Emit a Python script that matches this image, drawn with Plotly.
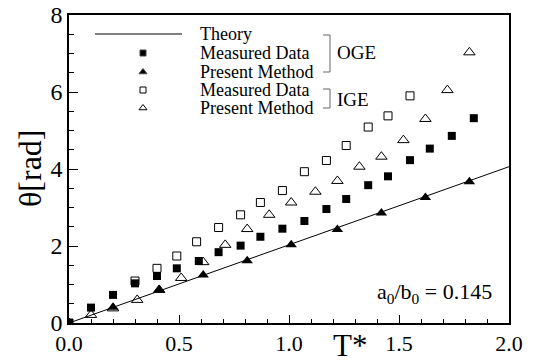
import plotly.graph_objects as go

# ---------------- data ----------------
theory_T = [0.0, 2.0]
theory_theta = [0.0, 4.06]

oge_meas_T = [0.0, 0.10, 0.20, 0.30, 0.40, 0.49, 0.59, 0.68, 0.78, 0.87, 0.97,
              1.07, 1.17, 1.26, 1.36, 1.45, 1.55, 1.64, 1.74, 1.84]
oge_meas_theta = [0.0, 0.40, 0.73, 1.03, 1.22, 1.42, 1.61, 1.84, 2.01, 2.24, 2.45,
                  2.65, 2.96, 3.22, 3.58, 3.81, 4.23, 4.53, 4.86, 5.32]

oge_pres_T = [0.0, 0.20, 0.41, 0.61, 0.81, 1.01, 1.22, 1.42, 1.62, 1.82]
oge_pres_theta = [0.0, 0.41, 0.86, 1.25, 1.62, 2.03, 2.43, 2.86, 3.26, 3.67]

ige_meas_T = [0.0, 0.30, 0.40, 0.49, 0.58, 0.68, 0.78, 0.87, 0.97, 1.07, 1.17,
              1.26, 1.36, 1.45, 1.55]
ige_meas_theta = [0.0, 1.09, 1.42, 1.74, 2.11, 2.48, 2.81, 3.13, 3.44, 3.93, 4.22,
                  4.61, 5.09, 5.38, 5.90]

ige_pres_T = [0.0, 0.10, 0.20, 0.31, 0.41, 0.51, 0.61, 0.71, 0.81, 0.91, 1.01,
              1.12, 1.22, 1.32, 1.42, 1.52, 1.62, 1.72, 1.82]
ige_pres_theta = [0.0, 0.21, 0.38, 0.60, 0.86, 1.17, 1.58, 2.03, 2.44, 2.81, 3.13,
                  3.41, 3.69, 4.06, 4.32, 4.75, 5.30, 6.05, 7.03]

legend_labels = ["Theory", "Measured Data", "Present Method", "Measured Data", "Present Method"]
x_ticks = [0.0, 0.5, 1.0, 1.5, 2.0]
x_tick_text = ["0.0", "0.5", "1.0", "1.5", "2.0"]
y_ticks = [0, 2, 4, 6, 8]
y_tick_text = ["0", "2", "4", "6", "8"]

FONT = "'Liberation Serif', 'Times New Roman', Times, serif"

fig = go.Figure()

fig.add_trace(go.Scatter(x=theory_T, y=theory_theta, mode="lines",
                         line=dict(color="black", width=1), name=legend_labels[0],
                         showlegend=False))
fig.add_trace(go.Scatter(x=ige_meas_T, y=ige_meas_theta, mode="markers",
                         marker=dict(symbol="square-open", size=8, color="black",
                                     line=dict(width=1)), showlegend=False))
fig.add_trace(go.Scatter(x=ige_pres_T, y=ige_pres_theta, mode="markers",
                         marker=dict(symbol="triangle-up-open", size=10, color="black",
                                     line=dict(width=1)), showlegend=False))
fig.add_trace(go.Scatter(x=oge_meas_T, y=oge_meas_theta, mode="markers",
                         marker=dict(symbol="square", size=8, color="black"),
                         showlegend=False))
fig.add_trace(go.Scatter(x=oge_pres_T, y=oge_pres_theta, mode="markers",
                         marker=dict(symbol="triangle-up", size=10, color="black"),
                         showlegend=False))

# ---------- manual legend (paper-like overlay axes) ----------
L, R, T, B = 69, 24, 15, 40
W, H = 533, 363
pw, ph = W - L - R, H - T - B


def px(x):
    return (x - L) / pw


def py(y):
    return (H - B - y) / ph


row_y = [34, 53, 72, 90, 108]
mark_x = 143
leg_symbols = [None, "square", "triangle-up", "square-open", "triangle-up-open"]
leg_sizes = [0, 6, 7, 6, 7]
for i in range(1, 5):
    fig.add_trace(go.Scatter(x=[px(mark_x)], y=[py(row_y[i])], mode="markers",
                             xaxis="x2", yaxis="y2", showlegend=False, hoverinfo="skip",
                             marker=dict(symbol=leg_symbols[i], size=leg_sizes[i],
                                         color="black", line=dict(width=1))))

shapes = [dict(type="line", xref="paper", yref="paper", x0=px(95), x1=px(182),
               y0=py(34), y1=py(34), line=dict(color="black", width=1))]

annotations = []
for i, lab in enumerate(legend_labels):
    annotations.append(dict(x=px(198), y=py(row_y[i]), xref="paper", yref="paper",
                            text=lab, showarrow=False, xanchor="left", yanchor="middle",
                            font=dict(family=FONT, size=18, color="black")))

# brackets
gray = "#666666"
for (y0, y1, lab, ty) in [(35, 72, "OGE", 53), (89, 108, "IGE", 99)]:
    shapes.append(dict(type="path", xref="paper", yref="paper",
                       path=f"M {px(323)},{py(y0)} L {px(330)},{py(y0)} L {px(330)},{py(y1)} L {px(323)},{py(y1)}",
                       line=dict(color=gray, width=1)))
    annotations.append(dict(x=px(335), y=py(ty), xref="paper", yref="paper", text=lab,
                            showarrow=False, xanchor="left", yanchor="middle",
                            font=dict(family=FONT, size=19, color="black")))

annotations.append(dict(x=px(494), y=py(293), xref="paper", yref="paper",
                        text="a<sub>0</sub>/b<sub>0</sub> = 0.145", showarrow=False,
                        xanchor="right", yanchor="middle",
                        font=dict(family=FONT, size=22, color="black")))
annotations.append(dict(x=px(350), y=py(345), xref="paper", yref="paper",
                        text="T*", showarrow=False, xanchor="center", yanchor="middle",
                        font=dict(family=FONT, size=31, color="black")))
annotations.append(dict(x=px(30), y=py(168), xref="paper", yref="paper",
                        text="θ[rad]", showarrow=False, xanchor="center", yanchor="middle",
                        textangle=-90, font=dict(family=FONT, size=32, color="black")))

fig.update_layout(
    width=W, height=H,
    margin=dict(l=L, r=R, t=T, b=B, pad=0, autoexpand=False),
    paper_bgcolor="white", plot_bgcolor="white",
    font=dict(family=FONT, size=22, color="black"),
    shapes=shapes, annotations=annotations,
    xaxis=dict(range=[0, 2.0], tickvals=x_ticks, ticktext=x_tick_text,
               ticks="inside", ticklen=8, tickwidth=1, tickcolor="black",
               showline=True, linecolor="black", linewidth=1.5, mirror=True,
               showgrid=False, zeroline=False, automargin=False,
               minor=dict(dtick=0.1, ticks="inside", ticklen=4, tickcolor="black", showgrid=False),
               tickfont=dict(family=FONT, size=22)),
    yaxis=dict(range=[0, 8], tickvals=y_ticks, ticktext=y_tick_text,
               ticks="inside", ticklen=9, tickwidth=1, tickcolor="black",
               showline=True, linecolor="black", linewidth=1.5, mirror=True,
               showgrid=False, zeroline=False, automargin=False,
               minor=dict(dtick=0.5, ticks="inside", ticklen=5, tickcolor="black", showgrid=False),
               tickfont=dict(family=FONT, size=24)),
    xaxis2=dict(range=[0, 1], domain=[0, 1], overlaying="x", visible=False, fixedrange=True),
    yaxis2=dict(range=[0, 1], domain=[0, 1], overlaying="y", visible=False, fixedrange=True),
)

fig.write_html("out.html")
